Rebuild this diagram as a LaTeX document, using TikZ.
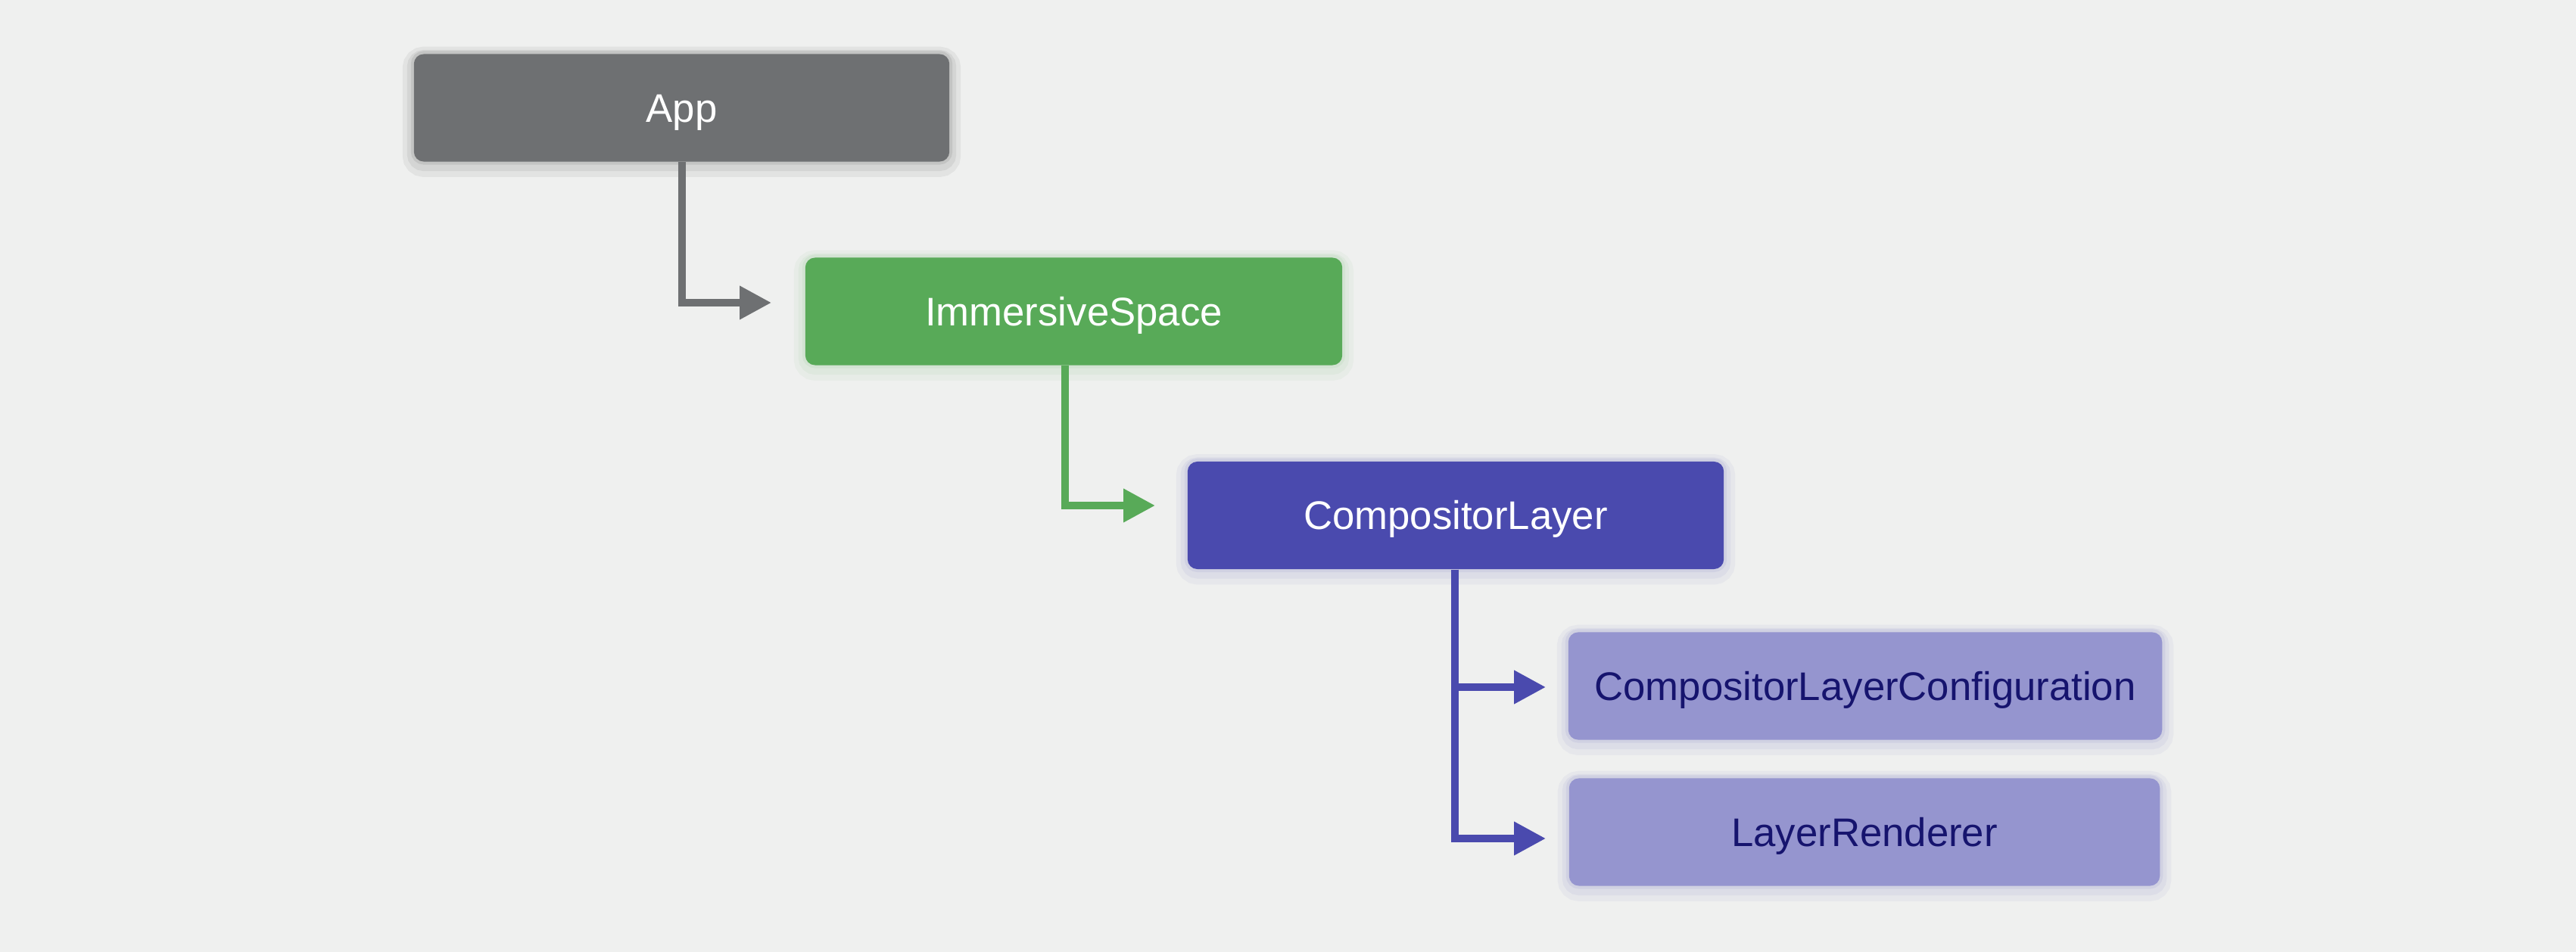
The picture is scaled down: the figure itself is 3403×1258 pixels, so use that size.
\documentclass[tikz,border=0pt]{standalone}
\usepackage{fontspec}
\setmainfont{Liberation Sans}
\usetikzlibrary{arrows.meta,calc}
\definecolor{bgc}{HTML}{EFF0EF}
\definecolor{appc}{HTML}{6E7072}
\definecolor{greenc}{HTML}{58AA58}
\definecolor{purplec}{HTML}{4A4AAE}
\definecolor{lightpc}{HTML}{9595CF}
\definecolor{navyc}{HTML}{16146E}
\tikzset{
  box/.style={rounded corners=0.13cm, minimum height=1.42cm, inner sep=0pt,
    font=\fontsize{15}{18}\selectfont, text height=10.7pt, text depth=0pt,
    preaction={draw=#1, draw opacity=0.05, line width=0.30cm, transform canvas={yshift=-1.5pt}},
    preaction={draw=#1, draw opacity=0.06, line width=0.18cm, transform canvas={yshift=-1pt}},
    preaction={draw=#1, draw opacity=0.08, line width=0.08cm}},
  appbox/.style={box=black, fill=appc, text=white, minimum width=7.07cm},
  isbox/.style={box=greenc, fill=greenc, text=white, minimum width=7.09cm},
  clbox/.style={box=purplec, fill=purplec, text=white, minimum width=7.08cm},
  subbox/.style={box=purplec, fill=lightpc, text=navyc},
  conn/.style={line width=0.1cm, line join=miter, -{Triangle[length=0.42cm,width=0.42cm]}}
}
\begin{document}
\begin{tikzpicture}[x=0.01cm,y=-0.01cm]
\fill[bgc] (0,0) rectangle (3403,1258);
\useasboundingbox (0,0) rectangle (3403,1258);
\node[appbox] (App) at (900.5,142.5) {App};
\node[isbox] (IS) at (1418.5,411.5) {ImmersiveSpace};
\node[clbox] (CL) at (1923,681) {CompositorLayer};
\node[subbox, minimum width=7.84cm] (CLC) at (2464,906.5) {CompositorLayerConfiguration};
\node[subbox, minimum width=7.80cm] (LR) at (2463,1099.5) {LayerRenderer};
\draw[conn, appc] (App.south) |- ($(IS.west)+(-44,-11.5)$);
\draw[conn, greenc] ($(IS.south)+(-11.5,0)$) |- ($(CL.west)+(-42,-13)$);
\draw[conn, purplec] ($(CL.south)+(-1,0)$) |- ($(CLC.west)+(-29,1.5)$);
\draw[conn, purplec] ($(CL.south)+(-1,0)$) |- ($(LR.west)+(-30,8.5)$);
\end{tikzpicture}
\end{document}
